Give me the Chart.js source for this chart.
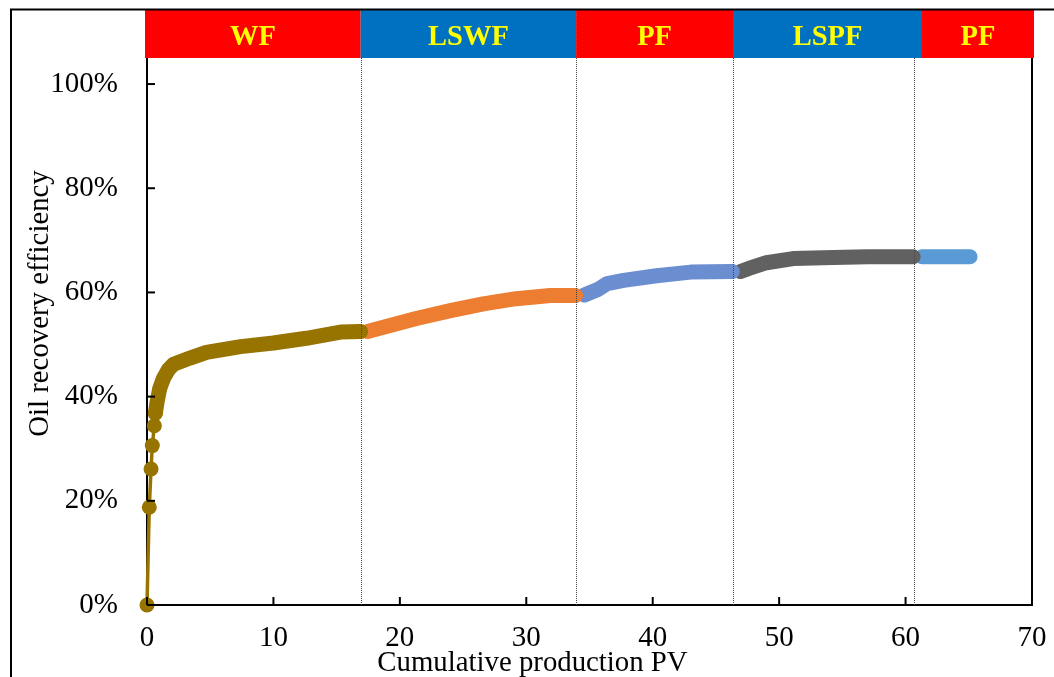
<!DOCTYPE html>
<html><head><meta charset="utf-8">
<script src="https://cdn.jsdelivr.net/npm/chart.js@4.4.0/dist/chart.umd.min.js"></script>
<style>html,body{margin:0;padding:0;background:#fff;overflow:hidden}#wrap{width:1054px;height:677px;position:relative}</style>
</head><body><div id="wrap"><canvas id="c" width="1054" height="677"></canvas></div>
<script>
// ---- data ----
const wfPV   = [0, 0.18, 0.32, 0.42, 0.58, 0.66, 0.8, 1.0, 1.3, 1.7, 2.1, 3.4, 4.7, 7.4, 10.0, 12.6, 15.3, 16.9];
const wfRF   = [0, 18.75, 26.1, 30.6, 34.4, 36.8, 39.0, 41.5, 43.5, 45.2, 46.2, 47.4, 48.5, 49.6, 50.3, 51.2, 52.4, 52.5];
const lswfPV = [17.45, 18.7, 21.3, 24.0, 26.6, 29.2, 31.9, 33.9];
const lswfRF = [52.5, 53.3, 55.0, 56.5, 57.8, 58.8, 59.4, 59.4];
const pfPV   = [34.6, 35.7, 36.4, 37.7, 40.3, 43.0, 46.3];
const pfRF   = [59.5, 60.6, 61.7, 62.3, 63.2, 63.9, 64.0];
const lspfPV = [46.95, 47.6, 49.0, 51.1, 54.3, 57.0, 60.6];
const lspfRF = [64.0, 64.6, 65.7, 66.5, 66.7, 66.85, 66.85];
const pf2PV  = [61.3, 65.1];
const pf2RF  = [66.85, 66.85];
const xTicks = [0, 10, 20, 30, 40, 50, 60, 70];
const yTicks = [0, 20, 40, 60, 80, 100];
const phaseNames  = ['WF', 'LSWF', 'PF', 'LSPF', 'PF'];
const phaseEdges  = [0, 16.9, 33.95, 46.35, 61.3, 70];
const dividerPV   = [16.9, 33.95, 46.35, 60.7];
const xTitle = 'Cumulative production PV';
const yTitle = 'Oil recovery efficiency';

// ---- styles ----
const phaseColors = ['#FF0000', '#0070C0', '#FF0000', '#0070C0', '#FF0000'];
const FONT = "'Liberation Serif', 'Times New Roman', serif";
const pts = (xs, ys) => xs.map((x, i) => ({x, y: ys[i]}));
const thick = (data, color) => ({
  data, borderColor: color, backgroundColor: color, borderWidth: 15, clip: false,
  borderCapStyle: 'round', borderJoinStyle: 'round', pointRadius: 0, pointHoverRadius: 0
});

const wfAll = pts(wfPV, wfRF);
const datasets = [
  thick(wfAll.slice(5), '#977300'),
  {data: wfAll.slice(0, 6), borderColor: '#977300', backgroundColor: '#977300', borderWidth: 3.5,
   pointRadius: 7.5, pointBorderWidth: 0, pointHoverRadius: 7.5, clip: false},
  thick(pts(lswfPV, lswfRF), '#ED7D31'),
  thick(pts(pfPV, pfRF), '#6A8ED0'),
  thick(pts(lspfPV, lspfRF), '#616161'),
  thick(pts(pf2PV, pf2RF), '#5B9BD5')
];

const decor = {
  id: 'decor',
  afterDatasetsDraw(chart) {
    const {ctx, chartArea: a, scales: {x}} = chart;
    ctx.save();
    ctx.strokeStyle = '#444';
    ctx.lineWidth = 1;
    ctx.setLineDash([1, 1]);
    dividerPV.forEach(v => {
      const px = Math.round(x.getPixelForValue(v)) + 0.5;
      ctx.beginPath(); ctx.moveTo(px, 10); ctx.lineTo(px, a.bottom); ctx.stroke();
    });
    ctx.restore();
  },
  afterDraw(chart) {
    const {ctx, chartArea: a, scales: {x, y}} = chart;
    ctx.save();
    // right border of plot
    ctx.strokeStyle = '#000'; ctx.lineWidth = 2;
    ctx.beginPath(); ctx.moveTo(a.right, a.top); ctx.lineTo(a.right, a.bottom + 1); ctx.stroke();
    // inward tick marks
    yTicks.forEach(v => {
      const py = y.getPixelForValue(v);
      ctx.beginPath(); ctx.moveTo(a.left, py); ctx.lineTo(a.left + 8, py); ctx.stroke();
    });
    xTicks.forEach(v => {
      const px = x.getPixelForValue(v);
      ctx.beginPath(); ctx.moveTo(px, a.bottom); ctx.lineTo(px, a.bottom - 8); ctx.stroke();
    });
    // phase bands
    const top = 10, bot = a.top;
    phaseNames.forEach((name, i) => {
      let x0 = x.getPixelForValue(phaseEdges[i]);
      let x1 = x.getPixelForValue(phaseEdges[i + 1]);
      if (i === 0) x0 -= 2;
      if (i === phaseNames.length - 1) x1 += 2;
      ctx.fillStyle = phaseColors[i];
      ctx.fillRect(x0, top, x1 - x0, bot - top);
      ctx.fillStyle = '#FFFF00';
      ctx.font = 'bold 28.5px ' + FONT;
      ctx.textAlign = 'center'; ctx.textBaseline = 'middle';
      ctx.fillText(name, (x0 + x1) / 2, (top + bot) / 2 + 4);
    });
    // axis titles
    ctx.fillStyle = '#000';
    ctx.font = '28.8px ' + FONT;
    ctx.textAlign = 'center'; ctx.textBaseline = 'middle';
    ctx.fillText(xTitle, 532.5, 663);
    ctx.save();
    ctx.translate(40, 303.5); ctx.rotate(-Math.PI / 2);
    ctx.fillText(yTitle, 0, 0);
    ctx.restore();
    // outer frame
    ctx.lineWidth = 2;
    ctx.beginPath(); ctx.moveTo(11, 700); ctx.lineTo(11, 9.5); ctx.lineTo(1060, 9.5); ctx.stroke();
    ctx.restore();
  }
};

new Chart(document.getElementById('c'), {
  type: 'line',
  data: {datasets},
  plugins: [decor],
  options: {
    responsive: false, animation: false, devicePixelRatio: 1,
    layout: {padding: {top: 58, right: 22, left: 0, bottom: 0}},
    plugins: {legend: {display: false}, tooltip: {enabled: false}},
    scales: {
      x: {
        type: 'linear', min: 0, max: 70,
        afterFit(s) { s.height = 72; s.paddingLeft = 0; s.paddingRight = 0; },
        grid: {display: false, drawTicks: false},
        border: {display: true, color: '#000', width: 2},
        ticks: {stepSize: 10, padding: 16, color: '#000', font: {family: FONT, size: 29}, maxRotation: 0}
      },
      y: {
        type: 'linear', min: 0, max: 105,
        afterFit(s) { s.width = 147; s.paddingTop = 0; s.paddingBottom = 0; },
        grid: {display: false, drawTicks: false},
        border: {display: true, color: '#000', width: 2},
        ticks: {stepSize: 20, includeBounds: false, padding: 29, color: '#000',
                font: {family: FONT, size: 29}, callback: v => v + '%'}
      }
    }
  }
});
</script></body></html>
